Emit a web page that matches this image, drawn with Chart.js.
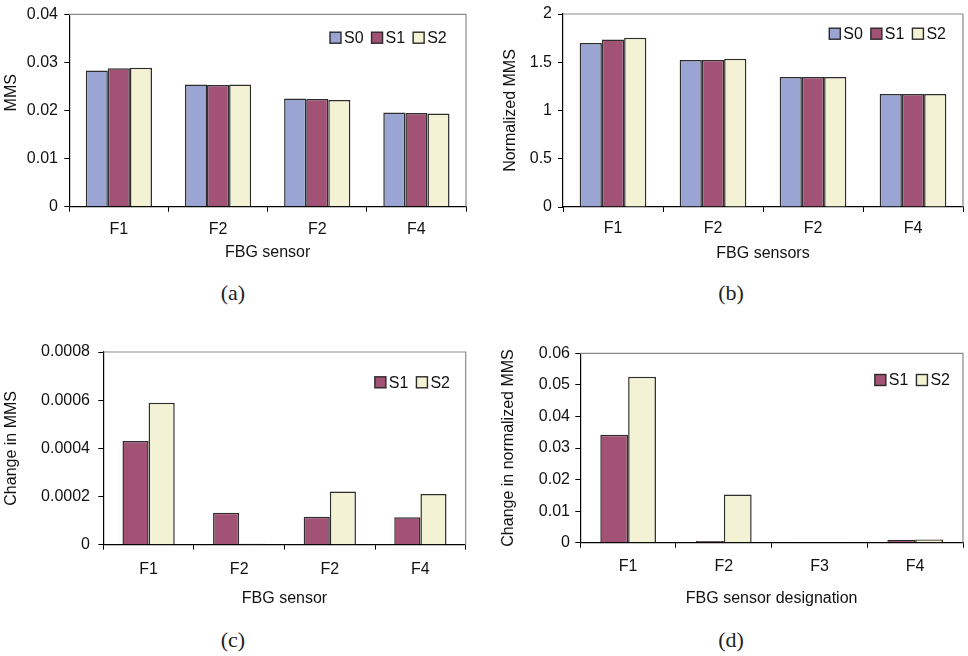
<!DOCTYPE html>
<html lang="en">
<head>
 <meta charset="UTF-8">
 <title>MMS of FBG sensors</title>
 <script src="https://cdn.jsdelivr.net/npm/chart.js"></script>
 <style>
   body { margin: 0; background: #fff; width: 968px; height: 656px; position: relative; overflow: hidden; }
   .panel { position: absolute; }
   .cap { position: absolute; width: 100px; text-align: center; font-family: "Liberation Serif", "Times New Roman", serif; font-size: 22px; line-height: 22px; color: #222; }
 </style>
</head>
<body>
 <div class="panel" style="left:0;top:0"><canvas id="chartA" width="484" height="270"></canvas></div>
 <div class="panel" style="left:484px;top:0"><canvas id="chartB" width="484" height="270"></canvas></div>
 <div class="panel" style="left:0;top:330px"><canvas id="chartC" width="484" height="282"></canvas></div>
 <div class="panel" style="left:484px;top:330px"><canvas id="chartD" width="484" height="282"></canvas></div>
 <div class="cap" style="left:183px;top:282px">(a)</div>
 <div class="cap" style="left:681px;top:282px">(b)</div>
 <div class="cap" style="left:183px;top:629px">(c)</div>
 <div class="cap" style="left:681px;top:629px">(d)</div>

 <script>
 // sensors on the x axis (the paper labels the third one F2 in a-c)
 const sensorsABC = ['F1', 'F2', 'F2', 'F4'];
 const sensorsD = ['F1', 'F2', 'F3', 'F4'];

 // (a) MMS
 const mmsS0 = [0.0283, 0.0254, 0.0225, 0.0196];
 const mmsS1 = [0.0288, 0.0253, 0.0224, 0.0195];
 const mmsS2 = [0.0289, 0.0254, 0.0222, 0.0194];
 const yTicksA = ['0', '0.01', '0.02', '0.03', '0.04'];

 // (b) normalized MMS
 const normS0 = [1.70, 1.523, 1.347, 1.17];
 const normS1 = [1.735, 1.523, 1.347, 1.17];
 const normS2 = [1.755, 1.537, 1.347, 1.17];
 const yTicksB = ['0', '0.5', '1', '1.5', '2'];

 // (c) change in MMS
 const dMmsS1 = [0.00043, 0.000133, 0.000116, 0.000114];
 const dMmsS2 = [0.000589, 0.000004, 0.000221, 0.00021];
 const yTicksC = ['0', '0.0002', '0.0004', '0.0006', '0.0008'];

 // (d) change in normalized MMS
 const dNormS1 = [0.0342, 0.0005, 0.0002, 0.00095];
 const dNormS2 = [0.0526, 0.0153, 0.0001, 0.001];
 const yTicksD = ['0', '0.01', '0.02', '0.03', '0.04', '0.05', '0.06'];

 const colS0 = '#9aa5d4';
 const colS1 = '#a15275';
 const colS2 = '#f3f2d5';

 Chart.defaults.font.family = '"Liberation Sans", Arial, sans-serif';
 Chart.defaults.font.size = 16;
 Chart.defaults.color = '#111';

 // gray top/right frame of the plot area
 const frame = {
   id: 'frame',
   beforeDatasetsDraw(chart) {
     const {ctx, chartArea: a} = chart;
     ctx.save();
     ctx.strokeStyle = '#8a8a8a';
     ctx.lineWidth = 1.2;
     ctx.beginPath();
     ctx.moveTo(a.left, a.top);
     ctx.lineTo(a.right, a.top);
     ctx.lineTo(a.right, a.bottom);
     ctx.stroke();
     ctx.restore();
   }
 };

 // legend drawn inside the plot, top right
 const insideLegend = {
   id: 'insideLegend',
   afterDraw(chart, args, opts) {
     const {ctx, chartArea: a} = chart;
     const sets = chart.data.datasets;
     ctx.save();
     ctx.font = '16px "Liberation Sans", Arial, sans-serif';
     ctx.textBaseline = 'middle';
     const widths = sets.map(d => ctx.measureText(d.label).width);
     let total = 0;
     widths.forEach(w => { total += 14 + w; });
     total += 8 * (sets.length - 1);
     let x = a.right - opts.right - total;
     const y = a.top + opts.top;
     sets.forEach((d, i) => {
       ctx.fillStyle = d.backgroundColor;
       ctx.fillRect(x, y - 5.5, 11, 11);
       ctx.strokeStyle = '#2a2a2a';
       ctx.lineWidth = 1.4;
       ctx.strokeRect(x, y - 5.5, 11, 11);
       ctx.fillStyle = '#111';
       ctx.fillText(d.label, x + 14, y + 1);
       x += 14 + widths[i] + 8;
     });
     ctx.restore();
   }
 };

 function makeChart(id, cfg) {
   const sets = cfg.series.map(s => ({
     label: s.label,
     data: s.data,
     backgroundColor: s.color,
     borderColor: '#2e2e2e',
     borderWidth: 1.5,
     categoryPercentage: cfg.catPct,
     barPercentage: 1
   }));
   return new Chart(document.getElementById(id), {
     type: 'bar',
     data: { labels: cfg.labels, datasets: sets },
     plugins: [frame, insideLegend],
     options: {
       responsive: false,
       animation: false,
       devicePixelRatio: 1,
       layout: { padding: { top: cfg.top, right: cfg.right, left: 0, bottom: 0 } },
       plugins: {
         legend: { display: false },
         tooltip: { enabled: false },
         insideLegend: cfg.legend
       },
       scales: {
         x: {
           grid: { offset: true, drawOnChartArea: false, color: '#000', tickLength: 5 },
           border: { color: '#000', width: 1.2 },
           ticks: { padding: cfg.xPad, maxRotation: 0 },
           title: { display: true, text: cfg.xTitle, padding: { top: 0, bottom: cfg.xTitlePad } },
           afterFit: s => { s.height = cfg.xH; }
         },
         y: {
           min: 0,
           max: cfg.max,
           grid: { drawOnChartArea: false, color: '#000', tickLength: 5 },
           border: { color: '#000', width: 1.2 },
           ticks: {
             stepSize: cfg.step,
             padding: cfg.yPad,
             font: { lineHeight: 1 },
             callback: (v, i) => cfg.yTicks[i]
           },
           title: { display: true, text: cfg.yTitle, padding: { top: cfg.yTitlePad, bottom: 0 } },
           afterFit: s => { s.width = cfg.yW; }
         }
       }
     }
   });
 }

 makeChart('chartA', {
   labels: sensorsABC,
   series: [
     { label: 'S0', data: mmsS0, color: colS0 },
     { label: 'S1', data: mmsS1, color: colS1 },
     { label: 'S2', data: mmsS2, color: colS2 }
   ],
   max: 0.04, step: 0.01, yTicks: yTicksA,
   catPct: 0.668,
   top: 8.3, right: 18, yW: 69.3, xH: 63.3,
   xPad: 8.5, yPad: 6.3,
   xTitle: 'FBG sensor', xTitlePad: 7.9,
   yTitle: '        MMS', yTitlePad: 2,
   legend: { right: 19.3, top: 23.4 }
 });

 makeChart('chartB', {
   labels: sensorsABC,
   series: [
     { label: 'S0', data: normS0, color: colS0 },
     { label: 'S1', data: normS1, color: colS1 },
     { label: 'S2', data: normS2, color: colS2 }
   ],
   max: 2, step: 0.5, yTicks: yTicksB,
   catPct: 0.667,
   top: 11, right: 5, yW: 79, xH: 63,
   xPad: 7.4, yPad: 6,
   xTitle: 'FBG sensors', xTitlePad: 7.1,
   yTitle: 'Normalized MMS', yTitlePad: 17,
   legend: { right: 17, top: 19.7 }
 });

 makeChart('chartC', {
   labels: sensorsABC,
   series: [
     { label: 'S1', data: dMmsS1, color: colS1 },
     { label: 'S2', data: dMmsS2, color: colS2 }
   ],
   max: 0.0008, step: 0.0002, yTicks: yTicksC,
   catPct: 0.577,
   top: 22, right: 18.3, yW: 103.3, xH: 67.3,
   xPad: 10.7, yPad: 8.3,
   xTitle: 'FBG sensor', xTitlePad: 4.1,
   yTitle: 'Change in MMS', yTitlePad: 2,
   legend: { right: 15.7, top: 30.3 }
 });

 makeChart('chartD', {
   labels: sensorsD,
   series: [
     { label: 'S1', data: dNormS1, color: colS1 },
     { label: 'S2', data: dNormS2, color: colS2 }
   ],
   max: 0.06, step: 0.01, yTicks: yTicksD,
   catPct: 0.582,
   top: 23.3, right: 5, yW: 96.3, xH: 69.3,
   xPad: 9.4, yPad: 5.3,
   xTitle: 'FBG sensor designation', xTitlePad: 4.1,
   yTitle: 'Change in normalized MMS', yTitlePad: 15.4,
   legend: { right: 13, top: 26.7 }
 });
 </script>
</body>
</html>
